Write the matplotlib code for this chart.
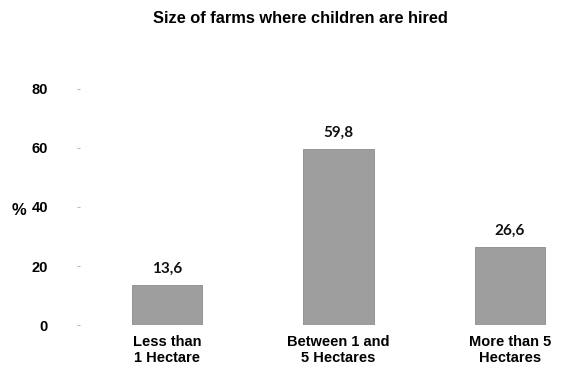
import numpy as np
import matplotlib.pyplot as plt

categories = ['Less than\n1 Hectare', 'Between 1 and\n5 Hectares', 'More than 5\nHectares']
values = [13.6, 59.8, 26.6]
value_labels = ['13,6', '59,8', '26,6']
yticks = [0, 20, 40, 60, 80]

fig = plt.figure(figsize=(5.74, 3.75), dpi=100)
ax = fig.add_axes([0.139, 0.133, 0.854, 0.63])

x = np.arange(len(categories))
ax.bar(x, values, width=0.41, color='#9e9e9e', edgecolor='#8a8a8a', linewidth=0.6)

for xi, v, lab in zip(x, values, value_labels):
    ax.text(xi, v + 3, lab, ha='center', va='bottom', fontsize=11,
            fontweight='bold', family='Lato', color='#111111')

ax.set_xlim(-0.51, 2.35)
ax.set_ylim(0, 80)
ax.set_yticks(yticks)
ax.set_yticklabels([str(t) for t in yticks], fontsize=10.5, fontweight='bold',
                   family='Liberation Sans')
ax.set_xticks(x)
ax.set_xticklabels(categories, fontsize=10.5, fontweight='bold',
                   family='Liberation Sans', linespacing=1.2)
ax.tick_params(axis='y', length=2, color='#bbbbbb', pad=21)
ax.tick_params(axis='x', length=0, pad=7)
for s in ax.spines.values():
    s.set_visible(False)

ax.set_ylabel('%', rotation=0, fontsize=12, fontweight='bold',
              family='Liberation Sans')
ax.yaxis.set_label_coords(-0.125, 0.455)

fig.text(0.523, 0.95, 'Size of farms where children are hired', ha='center',
         va='center', fontsize=11.8, fontweight='bold', family='Liberation Sans')

fig.savefig('out.png', dpi=100)
